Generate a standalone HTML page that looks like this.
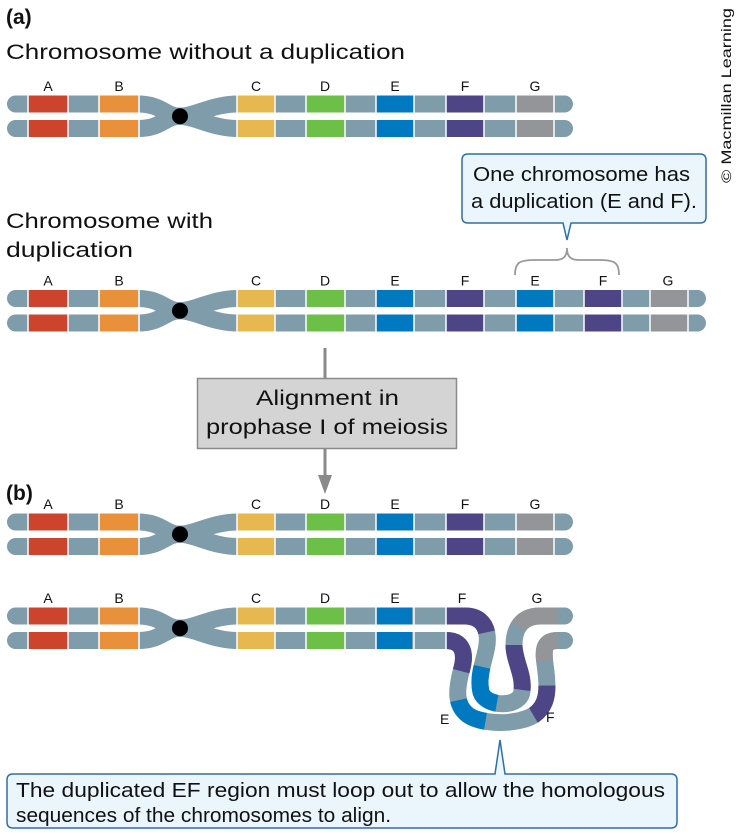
<!DOCTYPE html>
<html><head><meta charset="utf-8"><style>
html,body{margin:0;padding:0;background:#fff;}
svg{display:block;font-family:"Liberation Sans",sans-serif;}
</style></head><body>
<svg width="738" height="836" viewBox="0 0 738 836" xmlns="http://www.w3.org/2000/svg">
<defs>
<g id="leftpart">
  <rect x="7" y="-8.5" width="140" height="17" rx="8.5" fill="#7f9caa"/>
  <rect x="28" y="-8.5" width="40" height="17" fill="#cc442c"/>
  <rect x="99" y="-8.5" width="40" height="17" fill="#e8913a"/>
  <rect x="7" y="16" width="140" height="17" rx="8.5" fill="#7f9caa"/>
  <rect x="28" y="16" width="40" height="17" fill="#cc442c"/>
  <rect x="99" y="16" width="40" height="17" fill="#e8913a"/>
  <path d="M138,0 C162,0 165,12.25 180,12.25 C195,12.25 212,0 238,0" stroke="#7f9caa" stroke-width="17" fill="none"/>
  <path d="M138,24.5 C162,24.5 165,12.25 180,12.25 C195,12.25 212,24.5 238,24.5" stroke="#7f9caa" stroke-width="17" fill="none"/>
  <g stroke="#fff" stroke-width="1.5">
    <line x1="28" y1="-9" x2="28" y2="9"/><line x1="68" y1="-9" x2="68" y2="9"/><line x1="99" y1="-9" x2="99" y2="9"/><line x1="139" y1="-9" x2="139" y2="9"/>
    <line x1="28" y1="16" x2="28" y2="33"/><line x1="68" y1="16" x2="68" y2="33"/><line x1="99" y1="16" x2="99" y2="33"/><line x1="139" y1="16" x2="139" y2="33"/>
  </g>
  <circle cx="180" cy="12.25" r="8" fill="#000"/>
</g>
<g id="mid">
  <rect x="237" y="-8.5" width="210" height="17" fill="#7f9caa"/>
  <rect x="237" y="16" width="210" height="17" fill="#7f9caa"/>
  <rect x="237" y="-8.5" width="38" height="17" fill="#e6b84f"/><rect x="237" y="16" width="38" height="17" fill="#e6b84f"/>
  <rect x="306" y="-8.5" width="39" height="17" fill="#6cbf47"/><rect x="306" y="16" width="39" height="17" fill="#6cbf47"/>
  <rect x="376" y="-8.5" width="38" height="17" fill="#0079c1"/><rect x="376" y="16" width="38" height="17" fill="#0079c1"/>
  <g stroke="#fff" stroke-width="1.5">
    <line x1="237" y1="-9" x2="237" y2="9"/><line x1="275" y1="-9" x2="275" y2="9"/><line x1="306" y1="-9" x2="306" y2="9"/><line x1="345" y1="-9" x2="345" y2="9"/><line x1="376" y1="-9" x2="376" y2="9"/><line x1="414" y1="-9" x2="414" y2="9"/>
    <line x1="237" y1="16" x2="237" y2="33"/><line x1="275" y1="16" x2="275" y2="33"/><line x1="306" y1="16" x2="306" y2="33"/><line x1="345" y1="16" x2="345" y2="33"/><line x1="376" y1="16" x2="376" y2="33"/><line x1="414" y1="16" x2="414" y2="33"/>
  </g>
</g>
<g id="labels" font-size="14" text-anchor="middle" fill="#111">
  <text x="48" y="-13">A</text><text x="119" y="-13">B</text><text x="256" y="-13">C</text><text x="325" y="-13">D</text><text x="395" y="-13">E</text>
</g>
<g id="tailnormal">
  <rect x="440" y="-8.5" width="133" height="17" rx="8.5" fill="#7f9caa"/>
  <rect x="440" y="16" width="133" height="17" rx="8.5" fill="#7f9caa"/>
  <rect x="446" y="-8.5" width="38" height="17" fill="#4d4585"/><rect x="446" y="16" width="38" height="17" fill="#4d4585"/>
  <rect x="516" y="-8.5" width="38" height="17" fill="#939598"/><rect x="516" y="16" width="38" height="17" fill="#939598"/>
  <g stroke="#fff" stroke-width="1.5">
    <line x1="446" y1="-9" x2="446" y2="9"/><line x1="484" y1="-9" x2="484" y2="9"/><line x1="516" y1="-9" x2="516" y2="9"/><line x1="554" y1="-9" x2="554" y2="9"/>
    <line x1="446" y1="16" x2="446" y2="33"/><line x1="484" y1="16" x2="484" y2="33"/><line x1="516" y1="16" x2="516" y2="33"/><line x1="554" y1="16" x2="554" y2="33"/>
  </g>
  <g font-size="14" text-anchor="middle" fill="#111"><text x="465" y="-13">F</text><text x="535" y="-13">G</text></g>
</g>
<path id="pb" d="M446,640.5 C462,640.5 466,652 462,668 C456,690 455,705 468,715 C482,725 518,725 534,715 C548,705 548,690 546,672 C544,655 540,640.5 558,640.5"/>
<path id="pt" d="M446,616 L465,616 C482,616 489,628 487,645 C485,660 477,675 481,692 C486,708 522,708 522,690 C524,675 514,660 514,645 C514,628 522,616 540,616 L558,616"/>
</defs>

<text x="6" y="24" font-size="21" font-weight="bold" fill="#111">(a)</text>
<text x="6" y="59" font-size="21" fill="#111" textLength="399" lengthAdjust="spacingAndGlyphs">Chromosome without a duplication</text>
<g transform="translate(0,104)"><use href="#leftpart"/><use href="#mid"/><use href="#labels"/><use href="#tailnormal"/></g>

<text x="6" y="228" font-size="21" fill="#111" textLength="207" lengthAdjust="spacingAndGlyphs">Chromosome with</text>
<text x="6" y="257" font-size="21" fill="#111" textLength="127" lengthAdjust="spacingAndGlyphs">duplication</text>
<g transform="translate(0,298.5)">
  <use href="#leftpart"/><use href="#mid"/><use href="#labels"/>
  <rect x="440" y="-8.5" width="266" height="17" rx="8.5" fill="#7f9caa"/>
  <rect x="440" y="16" width="266" height="17" rx="8.5" fill="#7f9caa"/>
  <rect x="446" y="-8.5" width="38" height="17" fill="#4d4585"/><rect x="446" y="16" width="38" height="17" fill="#4d4585"/>
  <rect x="516" y="-8.5" width="38" height="17" fill="#0079c1"/><rect x="516" y="16" width="38" height="17" fill="#0079c1"/>
  <rect x="584" y="-8.5" width="38" height="17" fill="#4d4585"/><rect x="584" y="16" width="38" height="17" fill="#4d4585"/>
  <rect x="650" y="-8.5" width="38" height="17" fill="#939598"/><rect x="650" y="16" width="38" height="17" fill="#939598"/>
  <g stroke="#fff" stroke-width="1.5">
    <line x1="446" y1="-9" x2="446" y2="9"/><line x1="484" y1="-9" x2="484" y2="9"/><line x1="516" y1="-9" x2="516" y2="9"/><line x1="554" y1="-9" x2="554" y2="9"/><line x1="584" y1="-9" x2="584" y2="9"/><line x1="622" y1="-9" x2="622" y2="9"/><line x1="650" y1="-9" x2="650" y2="9"/><line x1="688" y1="-9" x2="688" y2="9"/>
    <line x1="446" y1="16" x2="446" y2="33"/><line x1="484" y1="16" x2="484" y2="33"/><line x1="516" y1="16" x2="516" y2="33"/><line x1="554" y1="16" x2="554" y2="33"/><line x1="584" y1="16" x2="584" y2="33"/><line x1="622" y1="16" x2="622" y2="33"/><line x1="650" y1="16" x2="650" y2="33"/><line x1="688" y1="16" x2="688" y2="33"/>
  </g>
  <g font-size="14" text-anchor="middle" fill="#111"><text x="465" y="-13">F</text><text x="535" y="-13">E</text><text x="603" y="-13">F</text><text x="668" y="-13">G</text></g>
</g>
<path d="M515,275 C515,262 520,260 535,260 L555,260 C563,260 567,257 567,248 C567,257 571,260 579,260 L599,260 C614,260 619,262 619,275" fill="none" stroke="#999" stroke-width="1.8"/>
<path d="M468,154 H700 Q706,154 706,160 V217 Q706,223 700,223 H571 L567,240 L563,223 H468 Q462,223 462,217 V160 Q462,154 468,154 Z" fill="#eaf6fc" stroke="#2d6fa8" stroke-width="1.5"/>
<text x="473" y="181" font-size="20" fill="#111" textLength="217" lengthAdjust="spacingAndGlyphs">One chromosome has</text>
<text x="471" y="208" font-size="20" fill="#111" textLength="226" lengthAdjust="spacingAndGlyphs">a duplication (E and F).</text>
<text transform="translate(731,183) rotate(-90)" font-size="14" fill="#111" textLength="175" lengthAdjust="spacingAndGlyphs">© Macmillan Learning</text>

<line x1="325" y1="348" x2="325" y2="378" stroke="#8a8a8a" stroke-width="3"/>
<line x1="325" y1="449" x2="325" y2="477" stroke="#8a8a8a" stroke-width="3"/>
<polygon points="318,475 332,475 325,494" fill="#8a8a8a"/>
<rect x="197.5" y="378.5" width="259" height="70" fill="#d4d4d5" stroke="#8a8a8a" stroke-width="1.5"/>
<text x="256" y="405" font-size="21" fill="#111" textLength="143" lengthAdjust="spacingAndGlyphs">Alignment in</text>
<text x="206" y="434" font-size="21" fill="#111" textLength="242" lengthAdjust="spacingAndGlyphs">prophase I of meiosis</text>

<text x="6" y="500" font-size="21" font-weight="bold" fill="#111">(b)</text>
<g transform="translate(0,522)"><use href="#leftpart"/><use href="#mid"/><use href="#labels"/><use href="#tailnormal"/></g>
<g transform="translate(0,616)">
  <use href="#leftpart"/><use href="#mid"/><use href="#labels"/>
  <line x1="412" y1="0" x2="448" y2="0" stroke="#7f9caa" stroke-width="17"/>
  <line x1="412" y1="24.5" x2="448" y2="24.5" stroke="#7f9caa" stroke-width="17"/>
  <line x1="414" y1="-9" x2="414" y2="9" stroke="#fff" stroke-width="1.5"/>
  <line x1="414" y1="16" x2="414" y2="33" stroke="#fff" stroke-width="1.5"/>
  <g font-size="14" text-anchor="middle" fill="#111"><text x="462" y="-13">F</text><text x="537" y="-13">G</text></g>
</g>
<rect x="548" y="607.5" width="25" height="17" rx="8.5" fill="#7f9caa"/>
<rect x="548" y="632" width="25" height="17" rx="8.5" fill="#7f9caa"/>
<g fill="none" stroke-width="17">
  <use href="#pb" stroke="#fff" stroke-width="21"/>
  <use href="#pb" stroke="#7f9caa"/>
  <path pathLength="100" d="M446,640.5 C462,640.5 466,652 462,668 C456,690 455,705 468,715 C482,725 518,725 534,715 C548,705 548,690 546,672 C544,655 540,640.5 558,640.5" stroke="#4d4585" stroke-dasharray="17 200"/>
  <path pathLength="100" d="M446,640.5 C462,640.5 466,652 462,668 C456,690 455,705 468,715 C482,725 518,725 534,715 C548,705 548,690 546,672 C544,655 540,640.5 558,640.5" stroke="#0079c1" stroke-dasharray="0 29 15 200"/>
  <path pathLength="100" d="M446,640.5 C462,640.5 466,652 462,668 C456,690 455,705 468,715 C482,725 518,725 534,715 C548,705 548,690 546,672 C544,655 540,640.5 558,640.5" stroke="#4d4585" stroke-dasharray="0 64 14 200"/>
  <path pathLength="100" d="M446,640.5 C462,640.5 466,652 462,668 C456,690 455,705 468,715 C482,725 518,725 534,715 C548,705 548,690 546,672 C544,655 540,640.5 558,640.5" stroke="#939598" stroke-dasharray="0 88 13 200"/>
  <use href="#pt" stroke="#fff" stroke-width="21"/>
  <use href="#pt" stroke="#7f9caa"/>
  <path pathLength="100" d="M446,616 L465,616 C482,616 489,628 487,645 C485,660 477,675 481,692 C486,708 522,708 522,690 C524,675 514,660 514,645 C514,628 522,616 540,616 L558,616" stroke="#4d4585" stroke-dasharray="18 200"/>
  <path pathLength="100" d="M446,616 L465,616 C482,616 489,628 487,645 C485,660 477,675 481,692 C486,708 522,708 522,690 C524,675 514,660 514,645 C514,628 522,616 540,616 L558,616" stroke="#0079c1" stroke-dasharray="0 31 17 200"/>
  <path pathLength="100" d="M446,616 L465,616 C482,616 489,628 487,645 C485,660 477,675 481,692 C486,708 522,708 522,690 C524,675 514,660 514,645 C514,628 522,616 540,616 L558,616" stroke="#4d4585" stroke-dasharray="0 60 17 200"/>
  <path pathLength="100" d="M446,616 L465,616 C482,616 489,628 487,645 C485,660 477,675 481,692 C486,708 522,708 522,690 C524,675 514,660 514,645 C514,628 522,616 540,616 L558,616" stroke="#939598" stroke-dasharray="0 84 17 200"/>
</g>
<line x1="446" y1="607" x2="446" y2="649" stroke="#fff" stroke-width="1.5"/>
<text x="440" y="724" font-size="14" fill="#111">E</text>
<text x="546" y="722" font-size="14" fill="#111">F</text>

<path d="M13,774 H495 L500,740 L505,774 H671 Q677,774 677,780 V822 Q677,828 671,828 H13 Q7,828 7,822 V780 Q7,774 13,774 Z" fill="#eaf6fc" stroke="#2d6fa8" stroke-width="1.5"/>
<text x="16" y="797" font-size="20" fill="#111" textLength="649" lengthAdjust="spacingAndGlyphs">The duplicated EF region must loop out to allow the homologous</text>
<text x="16" y="822" font-size="20" fill="#111" textLength="375" lengthAdjust="spacingAndGlyphs">sequences of the chromosomes to align.</text>
</svg>
</body></html>
